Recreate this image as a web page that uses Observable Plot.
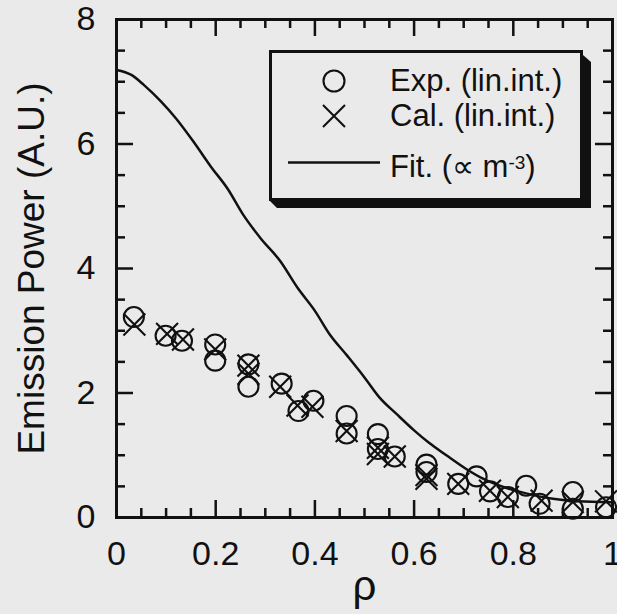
<!DOCTYPE html>
<html>
<head>
<meta charset="utf-8">
<script src="https://cdn.jsdelivr.net/npm/d3@7"></script>
<script src="https://cdn.jsdelivr.net/npm/@observablehq/plot@0.6"></script>
<style>
  html, body { margin: 0; padding: 0; background: #eaeaea; }
  #chart svg { display: block; }
</style>
</head>
<body>
<div id="chart"></div>
<script>
// Emission power profile versus normalized radius rho
const expRho   = [0.035, 0.099, 0.132, 0.199, 0.199, 0.266, 0.266, 0.333, 0.367, 0.397, 0.464, 0.464, 0.527, 0.527, 0.561, 0.625, 0.625, 0.689, 0.726, 0.753, 0.789, 0.826, 0.853, 0.920, 0.920, 0.987];
const expPower = [3.22, 2.92, 2.84, 2.78, 2.52, 2.46, 2.10, 2.15, 1.71, 1.875, 1.63, 1.35, 1.34, 1.10, 0.98, 0.85, 0.73, 0.54, 0.66, 0.42, 0.33, 0.51, 0.22, 0.41, 0.14, 0.165];

const calRho   = [0.036, 0.102, 0.134, 0.199, 0.266, 0.266, 0.330, 0.365, 0.395, 0.464, 0.527, 0.527, 0.561, 0.625, 0.625, 0.689, 0.753, 0.789, 0.857, 0.920, 0.987];
const calPower = [3.10, 2.95, 2.86, 2.70, 2.44, 2.31, 2.10, 1.80, 1.78, 1.39, 1.12, 1.02, 0.98, 0.68, 0.62, 0.54, 0.43, 0.33, 0.27, 0.25, 0.26];

const fitRho   = [0, 0.03, 0.055, 0.09, 0.12, 0.155, 0.19, 0.225, 0.255, 0.29, 0.33, 0.365, 0.40, 0.43, 0.465, 0.50, 0.53, 0.565, 0.60, 0.63, 0.665, 0.705, 0.74, 0.78, 0.83, 0.88, 0.93, 1.0];
const fitPower = [7.19, 7.11, 6.95, 6.68, 6.41, 6.04, 5.64, 5.27, 4.87, 4.49, 4.12, 3.69, 3.32, 2.94, 2.60, 2.25, 1.93, 1.66, 1.40, 1.20, 1.00, 0.78, 0.62, 0.49, 0.38, 0.30, 0.26, 0.245];

const xTickLabels = [0, 0.2, 0.4, 0.6, 0.8, 1];
const yTickLabels = [0, 2, 4, 6, 8];
const xMajorTicks = [0.2, 0.4, 0.6, 0.8];
const xMinorTicks = [0.05, 0.1, 0.15, 0.25, 0.3, 0.35, 0.45, 0.5, 0.55, 0.65, 0.7, 0.75, 0.85, 0.9, 0.95];
const yMajorTicks = [2, 4, 6];
const yMinorTicks = [0.5, 1, 1.5, 2.5, 3, 3.5, 4.5, 5, 5.5, 6.5, 7, 7.5];

const legendLabels = ["Exp. (lin.int.)", "Cal. (lin.int.)"];

const expData = expRho.map((r, i) => ({rho: r, power: expPower[i]}));
const calData = calRho.map((r, i) => ({rho: r, power: calPower[i]}));
const fitData = fitRho.map((r, i) => ({rho: r, power: fitPower[i]}));

const width = 617, height = 614;
const margin = {top: 19, right: 5, bottom: 97, left: 116};
const plotW = width - margin.left - margin.right;
const plotH = height - margin.top - margin.bottom;
const ink = "#111";
const bg = "#eaeaea";
const font = "'Liberation Sans', Arial, Helvetica, sans-serif";
const minorLen = 9, majorLen = 17, tickW = 2.5;

const chart = Plot.plot({
  width, height,
  marginTop: margin.top, marginRight: margin.right,
  marginBottom: margin.bottom, marginLeft: margin.left,
  style: {background: bg, color: ink, fontFamily: font, overflow: "visible"},
  x: {domain: [0, 1], label: null},
  y: {domain: [0, 8], label: null},
  marks: [
    // inward ticks on all four sides
    Plot.tickX(xMinorTicks, {x: d => d, insetTop: plotH - minorLen, stroke: ink, strokeWidth: tickW}),
    Plot.tickX(xMinorTicks, {x: d => d, insetBottom: plotH - minorLen, stroke: ink, strokeWidth: tickW}),
    Plot.tickX(xMajorTicks, {x: d => d, insetTop: plotH - majorLen, stroke: ink, strokeWidth: tickW}),
    Plot.tickX(xMajorTicks, {x: d => d, insetBottom: plotH - majorLen, stroke: ink, strokeWidth: tickW}),
    Plot.tickY(yMinorTicks, {y: d => d, insetRight: plotW - minorLen, stroke: ink, strokeWidth: tickW}),
    Plot.tickY(yMinorTicks, {y: d => d, insetLeft: plotW - minorLen, stroke: ink, strokeWidth: tickW}),
    Plot.tickY(yMajorTicks, {y: d => d, insetRight: plotW - majorLen, stroke: ink, strokeWidth: tickW}),
    Plot.tickY(yMajorTicks, {y: d => d, insetLeft: plotW - majorLen, stroke: ink, strokeWidth: tickW}),
    Plot.frame({stroke: ink, strokeWidth: 3}),
    Plot.axisX({ticks: xTickLabels, tickSize: 0, tickPadding: 23, fontSize: 34, tickFormat: d => String(d), label: null}),
    Plot.axisY({ticks: yTickLabels, tickSize: 0, tickPadding: 21, fontSize: 34, tickFormat: d => String(d), label: null}),
    Plot.text(["ρ"], {text: d => d, frameAnchor: "bottom", lineAnchor: "bottom", dy: 82, fontSize: 42, fill: ink}),
    Plot.text(["Emission Power (A.U.)"], {text: d => d, frameAnchor: "left", rotate: -90, dx: -84, lineAnchor: "middle", textAnchor: "middle", fontSize: 37, fill: ink}),
    // fitted profile
    Plot.line(fitData, {x: "rho", y: "power", curve: "monotone-x", stroke: ink, strokeWidth: 2.5}),
    // measured and calculated line-integrated values
    Plot.dot(expData, {x: "rho", y: "power", r: 10, symbol: "circle", stroke: ink, fill: "none", strokeWidth: 2.1}),
    Plot.dot(calData, {x: "rho", y: "power", r: 10, symbol: "times", stroke: ink, strokeWidth: 2.1})
  ]
});

// Legend box with drop shadow
const svg = d3.select(chart);
const lg = svg.append("g").attr("class", "legend").attr("text-anchor", "start");
lg.append("path")
  .attr("d", "M583,55 L591,62 L591,208 L277,208 L270,201 L583,201 Z")
  .attr("fill", ink);
lg.append("rect")
  .attr("x", 270.5).attr("y", 51.5).attr("width", 311).attr("height", 148)
  .attr("fill", bg).attr("stroke", ink).attr("stroke-width", 3);

lg.append("circle")
  .attr("cx", 334).attr("cy", 81).attr("r", 10.5)
  .attr("fill", "none").attr("stroke", ink).attr("stroke-width", 2.1);
lg.append("path")
  .attr("d", "M323,105 L345,127 M323,127 L345,105")
  .attr("fill", "none").attr("stroke", ink).attr("stroke-width", 2.1);
lg.append("line")
  .attr("x1", 288).attr("x2", 380).attr("y1", 162.5).attr("y2", 162.5)
  .attr("stroke", ink).attr("stroke-width", 2.5);

const textAttrs = sel => sel.attr("font-family", font).attr("font-size", 31).attr("fill", ink).attr("text-anchor", "start");
lg.append("text").attr("x", 390).attr("y", 91).text(legendLabels[0]).call(textAttrs);
lg.append("text").attr("x", 390).attr("y", 126).text(legendLabels[1]).call(textAttrs);
const fitLabel = lg.append("text").attr("x", 390).attr("y", 177).call(textAttrs);
fitLabel.append("tspan").text("Fit. (\u221D m");
fitLabel.append("tspan").attr("font-size", 19).attr("dy", -8).text("-3");
fitLabel.append("tspan").attr("dy", 8).text(")");

document.getElementById("chart").append(chart);
</script>
</body>
</html>
